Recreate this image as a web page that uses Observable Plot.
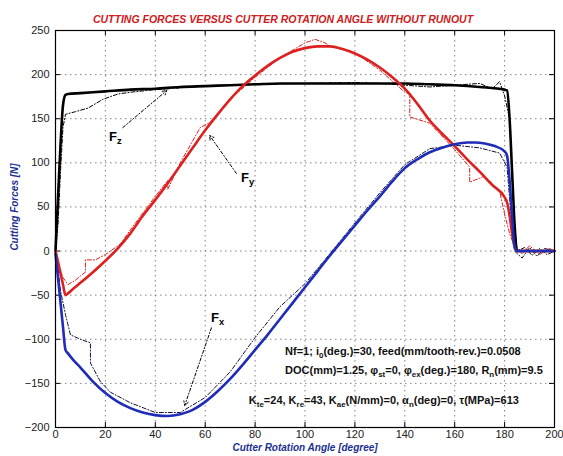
<!DOCTYPE html>
<html><head><meta charset="utf-8">
<script src="https://cdn.jsdelivr.net/npm/d3@7"></script>
<script src="https://cdn.jsdelivr.net/npm/@observablehq/plot@0.6"></script>
<style>body{margin:0;background:#fff}svg{display:block}</style>
</head><body><div id="chart"></div>
<script>
// ---- data ----
const xTicks = [0, 20, 40, 60, 80, 100, 120, 140, 160, 180, 200];
const yTicks = [-200, -150, -100, -50, 0, 50, 100, 150, 200, 250];

// simulated (smooth) forces
const fxAngle = [0,1,2,3,4,5,7,10,15,20,25,30,35,40,45,50,55,60,65,70,75,80,85,90,95,100,105,110,115,120,125,130,135,140,145,150,155,160,165,168,172,176,180,181,182,183,184,185,190,200];
const fxValue = [-3,-30,-58,-86,-112,-116,-123,-132,-148,-161,-171,-178,-183,-186,-187,-185,-180,-171,-159,-145,-129,-112,-95,-77,-59,-41,-23,-5,12,29,46,62,79,94,104,112,117,121,123,123,122,119,113,108,80,40,5,0,0,0];

const fyAngle = [0,1,2,3,4,5,7,10,15,20,25,30,35,40,45,50,55,60,65,70,75,80,85,90,95,100,105,110,115,120,125,130,135,140,145,150,155,160,165,170,175,180,181,182,183,184,185,190,200];
const fyValue = [0,-12,-25,-38,-50,-48,-43,-36,-24,-11,3,20,40,58,77,97,117,137,155,172,187,199,210,219,226,230,232,232,229,224,217,208,197,184,167,148,133,119,104,90,75,61,55,40,20,5,0,0,0];

const fzAngle = [0,1,2,3,4,5,10,20,30,40,50,60,70,80,90,100,110,120,130,140,150,160,170,180,181,182,183,184,185,200];
const fzValue = [0,60,120,165,177,178,179,181,183,184,186,187,188,189,190,190,190,190,190,190,189,188,186,183,182,150,90,30,0,0];

// measured (noisy) forces
const mxAngle = [0,1,2,4,6,10,14,14,18,22,30,40,50,60,70,80,90,100,110,120,130,140,150,160,170,178,181,182,183,184,187,190,193,196,200];
const mxValue = [0,-20,-45,-72,-95,-100,-104,-127,-148,-160,-172,-183,-183,-166,-137,-98,-63,-37,-3,32,66,98,116,120,117,111,95,60,20,0,-8,4,-6,3,0];

const myAngle = [0,1,3,5,8,10,12,12,16,20,26,30,40,45,45,50,58,62,70,80,90,100,104,108,110,120,130,140,142,142,150,160,166,166,172,178,180,182,184,187,190,194,198,200];
const myValue = [0,-15,-30,-38,-33,-28,-24,-10,-10,-4,8,24,62,80,70,100,140,146,172,197,219,236,240,236,232,225,205,180,178,152,145,115,95,78,85,68,42,20,5,-3,6,-4,3,0];

const mzAngle = [0,1,2,3,4,8,13,19,25,30,40,50,60,70,80,100,120,130,140,150,160,170,175,178,180,182,183,184,185,188,191,194,197,200];
const mzValue = [0,30,90,140,155,158,162,172,178,180,183,185,187,188,189,190,191,190,188,186,188,190,184,192,176,150,90,30,0,4,-5,3,-4,0];

// annotations
const forceLabels = ["F_{z}", "F_{y}", "F_{x}"];
const forceLabelAngle = [24, 77, 65];
const forceLabelValue = [129, 83, -76];
const arrowFrom = [[27, 140], [72.5, 88], [62.5, -87]];
const arrowTo = [[44.6, 182], [61.8, 131], [51.8, -175]];
const notes = [
  "Nf=1; i_{0}(deg.)=30, feed(mm/tooth-rev.)=0.0508",
  "DOC(mm)=1.25, φ_{st}=0, φ_{ex}(deg.)=180, R_{n}(mm)=9.5",
  "K_{te}=24, K_{re}=43, K_{ae}(N/mm)=0, α_{n}(deg)=0, τ(MPa)=613"
];
const noteAngle = [92, 92, 77.5];
const noteValue = [-114, -135, -169];

const title = "CUTTING FORCES VERSUS CUTTER ROTATION ANGLE WITHOUT RUNOUT";
const xTitle = "Cutter Rotation Angle [degree]";
const yTitle = "Cutting Forces [N]";

// ---- build ----
const zip = (a, v) => a.map((x, i) => ({x, y: v[i]}));
const W = 563, H = 456, mT = 30, mB = 29, mL = 55, mR = 9;
const frameH = H - mT - mB, frameW = W - mL - mR, tk = 5;
const blue = "#1e2cb8", red = "#dd2020", navy = "#22308f";

const chart = Plot.plot({
  width: W, height: H,
  marginTop: mT, marginBottom: mB, marginLeft: mL, marginRight: mR,
  x: {domain: [0, 200]},
  y: {domain: [-200, 250]},
  style: {fontFamily: "Liberation Sans, Arial, sans-serif", fontSize: "11px", color: "#222", background: "#fff"},
  marks: [
    Plot.gridX(xTicks, {stroke: "#777", strokeOpacity: 0.9, strokeDasharray: "1.5,3.5"}),
    Plot.gridY(yTicks, {stroke: "#777", strokeOpacity: 0.9, strokeDasharray: "1.5,3.5"}),
    Plot.axisX({ticks: xTicks, tickSize: 0, tickPadding: 3, label: null}),
    Plot.axisY({ticks: yTicks, tickSize: 0, tickPadding: 6, label: null}),
    Plot.tickX(xTicks, {x: d => d, insetTop: frameH - tk, stroke: "#000"}),
    Plot.tickX(xTicks, {x: d => d, insetBottom: frameH - tk, stroke: "#000"}),
    Plot.tickY(yTicks, {y: d => d, insetRight: frameW - tk, stroke: "#000"}),
    Plot.tickY(yTicks, {y: d => d, insetLeft: frameW - tk, stroke: "#000"}),
    // measured (dash-dot, thin)
    Plot.line(zip(mzAngle, mzValue), {x: "x", y: "y", stroke: "#000", strokeWidth: 1, strokeDasharray: "4,2,1,2"}),
    Plot.line(zip(myAngle, myValue), {x: "x", y: "y", stroke: red, strokeWidth: 1, strokeDasharray: "4,2,1,2"}),
    Plot.line(zip(mxAngle, mxValue), {x: "x", y: "y", stroke: "#113", strokeWidth: 1, strokeDasharray: "4,2,1,2"}),
    // simulated (thick)
    Plot.line(zip(fzAngle, fzValue), {x: "x", y: "y", stroke: "#000", strokeWidth: 2.6, curve: "monotone-x"}),
    Plot.line(zip(fyAngle, fyValue), {x: "x", y: "y", stroke: red, strokeWidth: 2.6, curve: "monotone-x"}),
    Plot.line(zip(fxAngle, fxValue), {x: "x", y: "y", stroke: blue, strokeWidth: 2.6, curve: "monotone-x"}),
    Plot.frame({stroke: "#000", strokeWidth: 1.2}),
    // annotation arrows & labels
    Plot.arrow(arrowFrom.map((d, i) => ({x1: d[0], y1: d[1], x2: arrowTo[i][0], y2: arrowTo[i][1]})),
      {x1: "x1", y1: "y1", x2: "x2", y2: "y2", stroke: "#000", strokeWidth: 1, headLength: 7, strokeDasharray: "3,2,1,2"}),
    Plot.text(forceLabels, {x: (d, i) => forceLabelAngle[i], y: (d, i) => forceLabelValue[i], text: d => d,
      fontSize: 13, fontWeight: "bold", fill: "#000"}),
    Plot.text(notes, {x: (d, i) => noteAngle[i], y: (d, i) => noteValue[i], text: d => d,
      textAnchor: "start", fontSize: 11, fontWeight: "bold", fill: "#111"}),
    // titles
    Plot.text([title], {frameAnchor: "top", dy: -15, dx: -22, fontSize: 10.5, fontWeight: "bold", fontStyle: "italic", fill: "#cc2020"}),
    Plot.text([xTitle], {frameAnchor: "bottom", dy: 23.5, dx: 0, fontSize: 10, fontWeight: "bold", fontStyle: "italic", fill: navy}),
    Plot.text([yTitle], {frameAnchor: "left", textAnchor: "middle", dx: -41, dy: -22, rotate: -90, fontSize: 10, fontWeight: "bold", fontStyle: "italic", fill: navy})
  ]
});

// subscripts: turn "_{...}" into lowered, smaller tspans
chart.querySelectorAll("text").forEach(t => {
  const s = t.textContent;
  if (!s.includes("_{")) return;
  const parts = s.split(/(_\{[^}]*\})/);
  t.textContent = "";
  let low = false;
  for (const p of parts) {
    if (!p) continue;
    const ts = document.createElementNS("http://www.w3.org/2000/svg", "tspan");
    if (p.startsWith("_{")) {
      ts.textContent = p.slice(2, -1);
      ts.setAttribute("font-size", "72%");
      if (!low) ts.setAttribute("dy", "3");
      low = true;
    } else {
      ts.textContent = p;
      if (low) ts.setAttribute("dy", "-3");
      low = false;
    }
    t.appendChild(ts);
  }
});

document.getElementById("chart").appendChild(chart);
</script></body></html>
